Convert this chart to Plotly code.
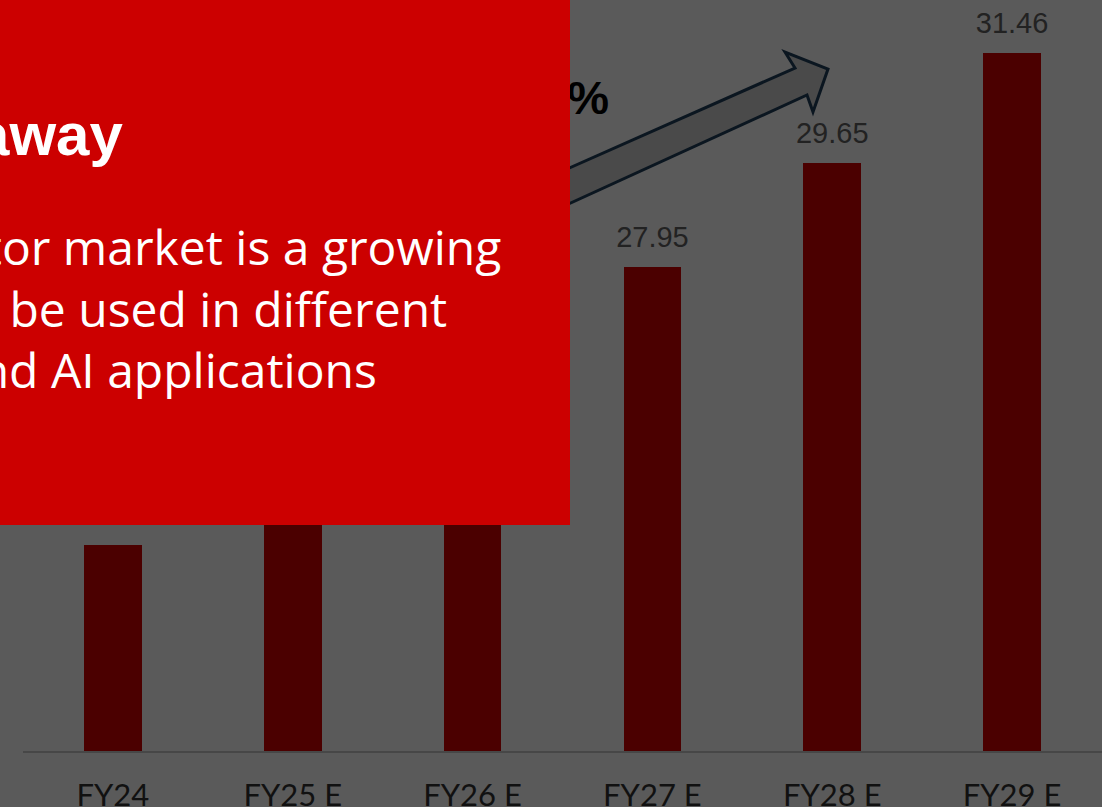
import plotly.graph_objects as go

# Market size by fiscal year (USD bn)
categories = ["FY24", "FY25 E", "FY26 E", "FY27 E", "FY28 E", "FY29 E"]
market_size = [23.38, 24.81, 26.33, 27.95, 29.65, 31.46]
value_labels = [f"{v:.2f}" for v in market_size]

title_text = "Key Takeaway"
body_lines = [
    "The semiconductor market is a growing",
    "sector and can be used in different",
    "industries like EV and AI applications",
]
cagr_text = "CAGR ~6.1%"

# Canvas geometry (pixels)
FIG_W, FIG_H = 1102, 807
M_L, M_R, M_T, M_B = 23, 0, 0, 56
PLOT_W = FIG_W - M_L - M_R
PLOT_H = FIG_H - M_T - M_B


def px_x(p):
    return (p - M_L) / PLOT_W


def px_y(p):
    return 1 - (p - M_T) / PLOT_H


BG = "#5a5a5a"
BAR = "#4b0000"
BOX = "#cc0000"

fig = go.Figure()

fig.add_trace(go.Bar(
    x=categories, y=market_size, width=0.32,
    marker=dict(color=BAR, line=dict(width=0)),
    hoverinfo="skip", showlegend=False,
))

# Value labels sit above each bar (transparent markers give the offset)
fig.add_trace(go.Scatter(
    x=categories, y=market_size, mode="markers+text",
    text=value_labels, textposition="top center",
    marker=dict(size=19, color="rgba(0,0,0,0)"),
    textfont=dict(family="Liberation Sans, Arial, sans-serif", size=29, color="#222222"),
    cliponaxis=False, hoverinfo="skip", showlegend=False,
))

# Growth arrow (block arrow)
arrow_pts = [(540, 181), (795, 68), (785, 52), (828, 69), (813, 112), (807, 95), (540, 217)]
arrow_path = "M " + " L ".join(f"{px_x(x):.5f},{px_y(y):.5f}" for x, y in arrow_pts) + " Z"

shapes = [
    dict(type="path", xref="paper", yref="paper", path=arrow_path,
         fillcolor="#4a4a4a", line=dict(color="#0b1620", width=3), layer="above"),
    dict(type="rect", xref="paper", yref="paper",
         x0=px_x(250), x1=px_x(612), y0=px_y(115), y1=px_y(71),
         fillcolor="rgba(0,0,0,0)", line=dict(width=0), layer="above",
         label=dict(text=cagr_text, textposition="middle right", padding=0,
                    font=dict(family="Liberation Sans, Arial, sans-serif", size=47,
                              color="#000000", weight="bold"))),
    dict(type="rect", xref="paper", yref="paper",
         x0=px_x(-10), x1=px_x(570), y0=px_y(525), y1=px_y(-10),
         fillcolor=BOX, line=dict(width=0), layer="above"),
]

annotations = [
    dict(text=title_text, xref="paper", yref="paper", x=px_x(125), y=px_y(134),
         xanchor="right", yanchor="middle", showarrow=False,
         font=dict(family="Liberation Sans, Arial, sans-serif", size=60,
                   color="#ffffff", weight="bold")),
]
line_right = [503, 449, 379]
line_mid = [246, 308, 370]
for txt, xr, ym in zip(body_lines, line_right, line_mid):
    annotations.append(dict(
        text=txt, xref="paper", yref="paper", x=px_x(xr), y=px_y(ym),
        xanchor="right", yanchor="middle", showarrow=False,
        font=dict(family="Open Sans, sans-serif", size=48, color="#ffffff"),
    ))

fig.update_layout(
    width=FIG_W, height=FIG_H,
    margin=dict(l=M_L, r=M_R, t=M_T, b=M_B, pad=0),
    paper_bgcolor=BG, plot_bgcolor=BG,
    shapes=shapes, annotations=annotations,
    bargap=0, showlegend=False,
    xaxis=dict(
        type="category", showgrid=False, zeroline=False,
        showline=True, linecolor="#474747", linewidth=2,
        ticks="outside", ticklen=16, tickcolor="rgba(0,0,0,0)",
        tickfont=dict(family="Lato, sans-serif", size=31, color="#111111"),
        automargin=False, fixedrange=True,
    ),
    yaxis=dict(visible=False, range=[20, 32.33], automargin=False, fixedrange=True),
)

fig.write_html("out.html", config={"displayModeBar": False})
